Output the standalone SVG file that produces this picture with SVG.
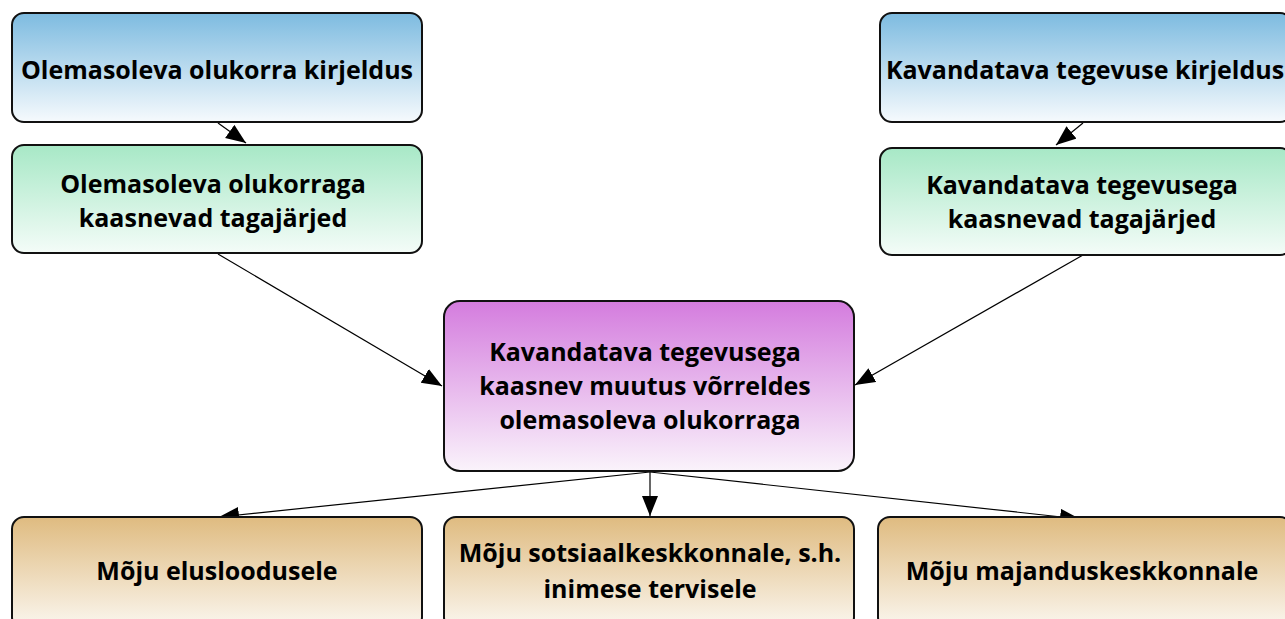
<svg xmlns="http://www.w3.org/2000/svg" width="1285" height="619" viewBox="0 0 1285 619">
<defs>
<linearGradient id="gBlue" x1="0" y1="0" x2="0" y2="1"><stop offset="0" stop-color="#7dbbe0"/><stop offset="1" stop-color="#f6fafd"/></linearGradient>
<linearGradient id="gGreen" x1="0" y1="0" x2="0" y2="1"><stop offset="0" stop-color="#a7e8c6"/><stop offset="1" stop-color="#f4fcf8"/></linearGradient>
<linearGradient id="gPurple" x1="0" y1="0" x2="0" y2="1"><stop offset="0" stop-color="#d47cde"/><stop offset="1" stop-color="#faf3fb"/></linearGradient>
<linearGradient id="gTan" x1="0" y1="0" x2="0" y2="1"><stop offset="0" stop-color="#dfbb80"/><stop offset="1" stop-color="#fbf7f0"/></linearGradient>
<marker id="arr" markerUnits="userSpaceOnUse" markerWidth="22" markerHeight="18" refX="20" refY="8" orient="auto"><path d="M0,0 L20,8 L0,16 z" fill="#000"/></marker>
<style>
.box{stroke:#111;stroke-width:2}
.t{font-family:"Open Sans","Noto Sans",sans-serif;font-weight:700;font-size:25px;fill:#000;text-anchor:middle}
.c{stroke:#000;stroke-width:1.2;fill:none;marker-end:url(#arr)}
</style>
</defs>
<rect width="1285" height="619" fill="#fff"/>
<g id="connectors">
<line class="c" x1="218" y1="123" x2="246" y2="143"/>
<line class="c" x1="1083" y1="123" x2="1056" y2="145"/>
<line class="c" x1="218" y1="254" x2="442" y2="386"/>
<line class="c" x1="1083" y1="255" x2="855" y2="385"/>
<line class="c" x1="650" y1="472" x2="219" y2="517"/>
<line class="c" x1="650" y1="472" x2="650" y2="516"/>
<line class="c" x1="650" y1="472" x2="1080" y2="519"/>
</g>
<g id="n1"><rect class="box" x="12" y="13" width="410" height="109" rx="12" fill="url(#gBlue)"/><text class="t" x="217" y="79">Olemasoleva olukorra kirjeldus</text></g>
<g id="n2"><rect class="box" x="12" y="145" width="410" height="108" rx="12" fill="url(#gGreen)"/><text class="t" x="213" y="193">Olemasoleva olukorraga</text><text class="t" x="213" y="227">kaasnevad tagajärjed</text></g>
<g id="n3"><rect class="box" x="880" y="13" width="412" height="109" rx="12" fill="url(#gBlue)"/><text class="t" x="1085" y="79">Kavandatava tegevuse kirjeldus</text></g>
<g id="n4"><rect class="box" x="880" y="148" width="412" height="107" rx="12" fill="url(#gGreen)"/><text class="t" x="1082" y="194">Kavandatava tegevusega</text><text class="t" x="1082" y="228">kaasnevad tagajärjed</text></g>
<g id="n5"><rect class="box" x="444" y="301" width="410" height="170" rx="16" fill="url(#gPurple)"/><text class="t" x="645" y="361">Kavandatava tegevusega</text><text class="t" x="645" y="395">kaasnev muutus võrreldes</text><text class="t" x="650" y="429">olemasoleva olukorraga</text></g>
<g id="n6"><rect class="box" x="12" y="517" width="410" height="112" rx="12" fill="url(#gTan)"/><text class="t" x="217" y="580">Mõju elusloodusele</text></g>
<g id="n7"><rect class="box" x="444" y="517" width="410" height="112" rx="12" fill="url(#gTan)"/><text class="t" x="650" y="562">Mõju sotsiaalkeskkonnale, s.h.</text><text class="t" x="650" y="598">inimese tervisele</text></g>
<g id="n8"><rect class="box" x="878" y="517" width="414" height="112" rx="12" fill="url(#gTan)"/><text class="t" x="1082" y="580">Mõju majanduskeskkonnale</text></g>
</svg>
